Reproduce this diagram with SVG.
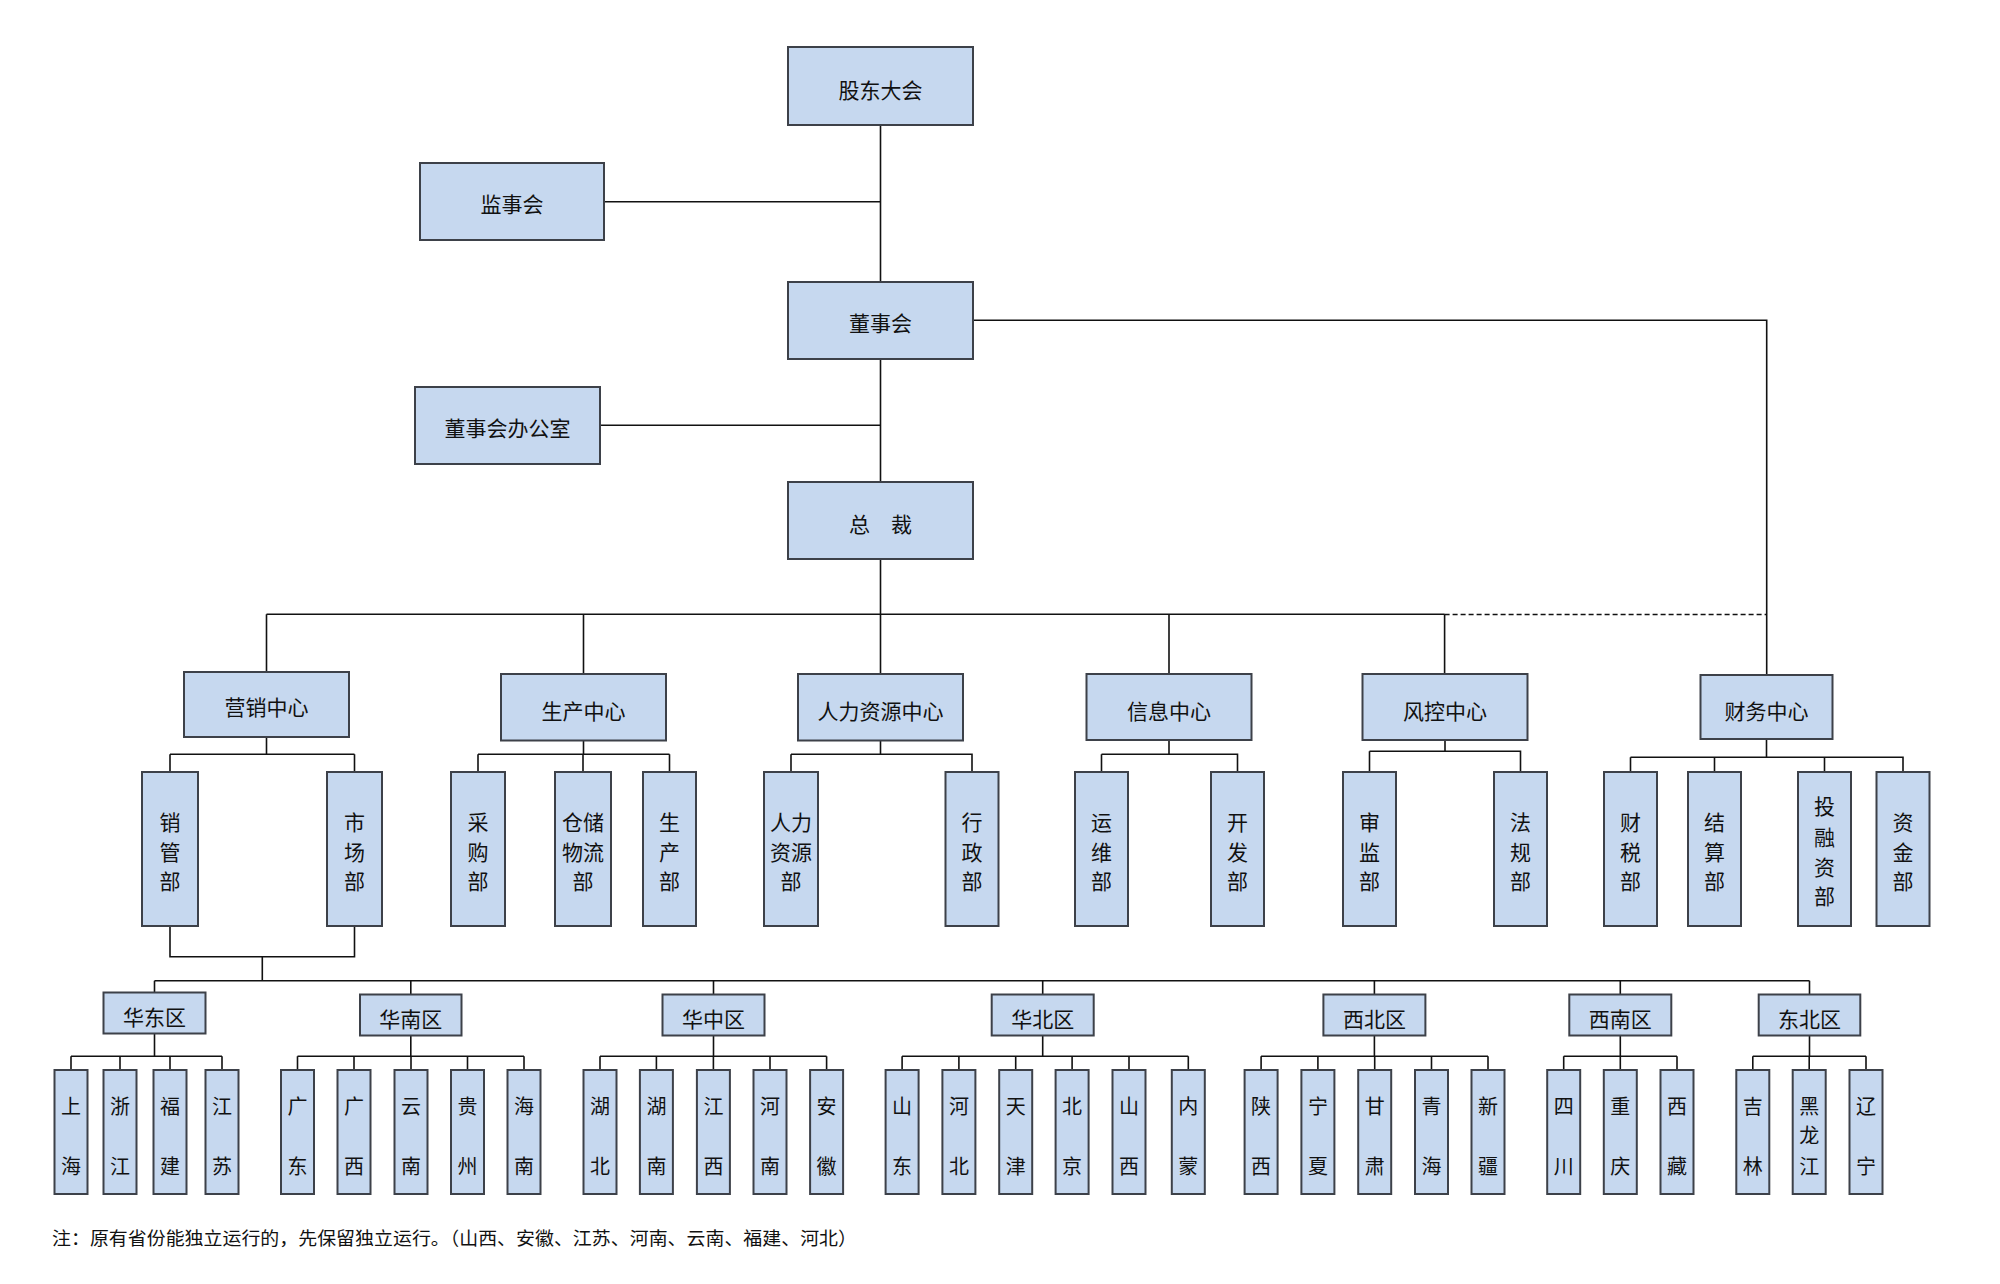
<svg xmlns="http://www.w3.org/2000/svg" width="2000" height="1284" viewBox="0 0 2000 1284">
<style>
.box{fill:#C6D8EF;stroke:#3D4149;stroke-width:2}
.ln{stroke:#111;stroke-width:1.6;fill:none}
.dash{stroke:#111;stroke-width:1.4;fill:none;stroke-dasharray:5,3}
.t{font-family:"Noto Sans CJK SC","Noto Sans",sans-serif;font-size:21px;fill:#111;text-anchor:middle}
.p{font-family:"Noto Sans CJK SC","Noto Sans",sans-serif;font-size:20px;fill:#111;text-anchor:middle}
.n{font-family:"Noto Sans CJK SC","Noto Sans",sans-serif;font-size:18.5px;fill:#111}
</style>
<rect width="2000" height="1284" fill="#fff"/>
<g id="connectors">
<path class="ln" d="M880.5 125V282M604 201.7H880.5M880.5 359V482M600 425.3H880.5M973 320.3H1766.7V675M880.5 559V614.3M266.5 614.3H1444.6M266.5 614.3V672M583.5 614.3V674M880.5 614.3V674M1169 614.3V674M1444.6 614.3V674"/>
<path class="dash" d="M1444.6 614.5H1766.7"/>
<path class="ln" d="M266.5 737V754.3M170 754.3H354.5M170 754.3V772M354.5 754.3V772"/>
<path class="ln" d="M583.5 740.5V754.3M478 754.3H669.5M478 754.3V772M583 754.3V772M669.5 754.3V772"/>
<path class="ln" d="M880.5 740.5V754.3M791 754.3H972V772M791 754.3V772"/>
<path class="ln" d="M1169 740V754.3M1101.5 754.3H1237.5V772M1101.5 754.3V772"/>
<path class="ln" d="M1445 740V751.3M1369.5 751.3H1520.5V772M1369.5 751.3V772"/>
<path class="ln" d="M1766.5 739V757.3M1630.5 757.3H1903V772M1630.5 757.3V772M1714.5 757.3V772M1824.5 757.3V772"/>
<path class="ln" d="M170 926V956.7H354.5V926M262.3 956.7V980.7M154.5 980.7H1809.5"/>
<path class="ln" d="M154.5 980.7V992.5M410.8 980.7V994.5M713.5 980.7V994.5M1042.7 980.7V994.5M1374.4 980.7V994.5M1620.3 980.7V994.5M1809.5 980.7V994.5"/>
<path class="ln" d="M154.5 1033.5V1056.3M71 1056.3H222M71 1056.3V1070M120 1056.3V1070M170 1056.3V1070M222 1056.3V1070"/>
<path class="ln" d="M410.8 1035.5V1056.3M297.5 1056.3H524M297.5 1056.3V1070M354 1056.3V1070M411 1056.3V1070M467.5 1056.3V1070M524 1056.3V1070"/>
<path class="ln" d="M713.5 1035.5V1056.3M600 1056.3H826.6M600 1056.3V1070M656.4 1056.3V1070M713.4 1056.3V1070M770 1056.3V1070M826.6 1056.3V1070"/>
<path class="ln" d="M1042.7 1035.5V1056.3M902.1 1056.3H1188.3M902.1 1056.3V1070M958.9 1056.3V1070M1015.7 1056.3V1070M1072.1 1056.3V1070M1129 1056.3V1070M1188.3 1056.3V1070"/>
<path class="ln" d="M1374.4 1035.5V1056.3M1261.1 1056.3H1488M1261.1 1056.3V1070M1317.9 1056.3V1070M1374.7 1056.3V1070M1431.5 1056.3V1070M1488 1056.3V1070"/>
<path class="ln" d="M1620.3 1035.5V1056.3M1563.7 1056.3H1677M1563.7 1056.3V1070M1620.3 1056.3V1070M1677 1056.3V1070"/>
<path class="ln" d="M1809.5 1035.5V1056.3M1752.8 1056.3H1866M1752.8 1056.3V1070M1809.2 1056.3V1070M1866 1056.3V1070"/>
</g>
<g id="n-gudong"><rect class="box" x="788" y="47" width="185" height="78"/><text class="t" x="880.5" y="98">股东大会</text></g>
<g id="n-jianshi"><rect class="box" x="420" y="163" width="184" height="77"/><text class="t" x="512" y="212">监事会</text></g>
<g id="n-dongshi"><rect class="box" x="788" y="282" width="185" height="77"/><text class="t" x="880.5" y="331">董事会</text></g>
<g id="n-office"><rect class="box" x="415" y="387" width="185" height="77"/><text class="t" x="507.5" y="436">董事会办公室</text></g>
<g id="n-zongcai"><rect class="box" x="788" y="482" width="185" height="77"/><text class="t" x="880.5" y="532" xml:space="preserve">总　裁</text></g>

<g id="n-yingxiao"><rect class="box" x="184" y="672" width="165" height="65"/><text class="t" x="266.5" y="715">营销中心</text></g>
<g id="n-shengchan"><rect class="box" x="501" y="674" width="165" height="66.5"/><text class="t" x="583.5" y="718.5">生产中心</text></g>
<g id="n-renli"><rect class="box" x="798" y="674" width="165" height="66.5"/><text class="t" x="880.5" y="718.5">人力资源中心</text></g>
<g id="n-xinxi"><rect class="box" x="1086.5" y="674" width="165" height="66"/><text class="t" x="1169" y="718.5">信息中心</text></g>
<g id="n-fengkong"><rect class="box" x="1362.5" y="674" width="165" height="66"/><text class="t" x="1445" y="718.5">风控中心</text></g>
<g id="n-caiwu"><rect class="box" x="1700.5" y="675" width="132" height="64"/><text class="t" x="1766.5" y="718.5">财务中心</text></g>

<g id="n-xiaoguan"><rect class="box" x="142" y="772" width="56" height="154"/><text class="t"><tspan x="170" y="830">销</tspan><tspan x="170" y="860">管</tspan><tspan x="170" y="889">部</tspan></text></g>
<g id="n-shichang"><rect class="box" x="327" y="772" width="55" height="154"/><text class="t"><tspan x="354.5" y="830">市</tspan><tspan x="354.5" y="860">场</tspan><tspan x="354.5" y="889">部</tspan></text></g>
<g id="n-caigou"><rect class="box" x="451" y="772" width="54" height="154"/><text class="t"><tspan x="478" y="830">采</tspan><tspan x="478" y="860">购</tspan><tspan x="478" y="889">部</tspan></text></g>
<g id="n-cangchu"><rect class="box" x="555" y="772" width="56" height="154"/><text class="t"><tspan x="583" y="830">仓储</tspan><tspan x="583" y="860">物流</tspan><tspan x="583" y="889">部</tspan></text></g>
<g id="n-shengchanbu"><rect class="box" x="643" y="772" width="53" height="154"/><text class="t"><tspan x="669.5" y="830">生</tspan><tspan x="669.5" y="860">产</tspan><tspan x="669.5" y="889">部</tspan></text></g>
<g id="n-renliziyuan"><rect class="box" x="764" y="772" width="54" height="154"/><text class="t"><tspan x="791" y="830">人力</tspan><tspan x="791" y="860">资源</tspan><tspan x="791" y="889">部</tspan></text></g>
<g id="n-xingzheng"><rect class="box" x="945.5" y="772" width="53" height="154"/><text class="t"><tspan x="972" y="830">行</tspan><tspan x="972" y="860">政</tspan><tspan x="972" y="889">部</tspan></text></g>
<g id="n-yunwei"><rect class="box" x="1075" y="772" width="53" height="154"/><text class="t"><tspan x="1101.5" y="830">运</tspan><tspan x="1101.5" y="860">维</tspan><tspan x="1101.5" y="889">部</tspan></text></g>
<g id="n-kaifa"><rect class="box" x="1211" y="772" width="53" height="154"/><text class="t"><tspan x="1237.5" y="830">开</tspan><tspan x="1237.5" y="860">发</tspan><tspan x="1237.5" y="889">部</tspan></text></g>
<g id="n-shenjian"><rect class="box" x="1343" y="772" width="53" height="154"/><text class="t"><tspan x="1369.5" y="830">审</tspan><tspan x="1369.5" y="860">监</tspan><tspan x="1369.5" y="889">部</tspan></text></g>
<g id="n-fagui"><rect class="box" x="1494" y="772" width="53" height="154"/><text class="t"><tspan x="1520.5" y="830">法</tspan><tspan x="1520.5" y="860">规</tspan><tspan x="1520.5" y="889">部</tspan></text></g>
<g id="n-caishui"><rect class="box" x="1604" y="772" width="53" height="154"/><text class="t"><tspan x="1630.5" y="830">财</tspan><tspan x="1630.5" y="860">税</tspan><tspan x="1630.5" y="889">部</tspan></text></g>
<g id="n-jiesuan"><rect class="box" x="1688" y="772" width="53" height="154"/><text class="t"><tspan x="1714.5" y="830">结</tspan><tspan x="1714.5" y="860">算</tspan><tspan x="1714.5" y="889">部</tspan></text></g>
<g id="n-tourongzi"><rect class="box" x="1798" y="772" width="53" height="154"/><text class="t"><tspan x="1824.5" y="814">投</tspan><tspan x="1824.5" y="845">融</tspan><tspan x="1824.5" y="875">资</tspan><tspan x="1824.5" y="904">部</tspan></text></g>
<g id="n-zijin"><rect class="box" x="1876.5" y="772" width="53" height="154"/><text class="t"><tspan x="1903" y="830">资</tspan><tspan x="1903" y="860">金</tspan><tspan x="1903" y="889">部</tspan></text></g>

<g id="n-huadong"><rect class="box" x="103.5" y="992.5" width="102" height="41"/><text class="t" x="154.5" y="1025">华东区</text></g>
<g id="n-huanan"><rect class="box" x="360" y="994.5" width="101.5" height="41"/><text class="t" x="410.8" y="1027">华南区</text></g>
<g id="n-huazhong"><rect class="box" x="662.5" y="994.5" width="102" height="41"/><text class="t" x="713.5" y="1027">华中区</text></g>
<g id="n-huabei"><rect class="box" x="991.7" y="994.5" width="102" height="41"/><text class="t" x="1042.7" y="1027">华北区</text></g>
<g id="n-xibei"><rect class="box" x="1323.4" y="994.5" width="102" height="41"/><text class="t" x="1374.4" y="1027">西北区</text></g>
<g id="n-xinan"><rect class="box" x="1569.3" y="994.5" width="102" height="41"/><text class="t" x="1620.3" y="1027">西南区</text></g>
<g id="n-dongbei"><rect class="box" x="1758.7" y="994.5" width="101.6" height="41"/><text class="t" x="1809.5" y="1027">东北区</text></g>

<g id="n-shanghai"><rect class="box" x="54.5" y="1070" width="33" height="124"/><text class="p"><tspan x="71" y="1113.5">上</tspan><tspan x="71" y="1173.5">海</tspan></text></g>
<g id="n-zhejiang"><rect class="box" x="103.5" y="1070" width="33" height="124"/><text class="p"><tspan x="120" y="1113.5">浙</tspan><tspan x="120" y="1173.5">江</tspan></text></g>
<g id="n-fujian"><rect class="box" x="153.5" y="1070" width="33" height="124"/><text class="p"><tspan x="170" y="1113.5">福</tspan><tspan x="170" y="1173.5">建</tspan></text></g>
<g id="n-jiangsu"><rect class="box" x="205.5" y="1070" width="33" height="124"/><text class="p"><tspan x="222" y="1113.5">江</tspan><tspan x="222" y="1173.5">苏</tspan></text></g>

<g id="n-guangdong"><rect class="box" x="281" y="1070" width="33" height="124"/><text class="p"><tspan x="297.5" y="1113.5">广</tspan><tspan x="297.5" y="1173.5">东</tspan></text></g>
<g id="n-guangxi"><rect class="box" x="337.5" y="1070" width="33" height="124"/><text class="p"><tspan x="354" y="1113.5">广</tspan><tspan x="354" y="1173.5">西</tspan></text></g>
<g id="n-yunnan"><rect class="box" x="394.5" y="1070" width="33" height="124"/><text class="p"><tspan x="411" y="1113.5">云</tspan><tspan x="411" y="1173.5">南</tspan></text></g>
<g id="n-guizhou"><rect class="box" x="451" y="1070" width="33" height="124"/><text class="p"><tspan x="467.5" y="1113.5">贵</tspan><tspan x="467.5" y="1173.5">州</tspan></text></g>
<g id="n-hainan"><rect class="box" x="507.5" y="1070" width="33" height="124"/><text class="p"><tspan x="524" y="1113.5">海</tspan><tspan x="524" y="1173.5">南</tspan></text></g>

<g id="n-hubei"><rect class="box" x="583.5" y="1070" width="33" height="124"/><text class="p"><tspan x="600" y="1113.5">湖</tspan><tspan x="600" y="1173.5">北</tspan></text></g>
<g id="n-hunan"><rect class="box" x="639.9" y="1070" width="33" height="124"/><text class="p"><tspan x="656.4" y="1113.5">湖</tspan><tspan x="656.4" y="1173.5">南</tspan></text></g>
<g id="n-jiangxi"><rect class="box" x="696.9" y="1070" width="33" height="124"/><text class="p"><tspan x="713.4" y="1113.5">江</tspan><tspan x="713.4" y="1173.5">西</tspan></text></g>
<g id="n-henan"><rect class="box" x="753.5" y="1070" width="33" height="124"/><text class="p"><tspan x="770" y="1113.5">河</tspan><tspan x="770" y="1173.5">南</tspan></text></g>
<g id="n-anhui"><rect class="box" x="810.1" y="1070" width="33" height="124"/><text class="p"><tspan x="826.6" y="1113.5">安</tspan><tspan x="826.6" y="1173.5">徽</tspan></text></g>

<g id="n-shandong"><rect class="box" x="885.6" y="1070" width="33" height="124"/><text class="p"><tspan x="902.1" y="1113.5">山</tspan><tspan x="902.1" y="1173.5">东</tspan></text></g>
<g id="n-hebei"><rect class="box" x="942.4" y="1070" width="33" height="124"/><text class="p"><tspan x="958.9" y="1113.5">河</tspan><tspan x="958.9" y="1173.5">北</tspan></text></g>
<g id="n-tianjin"><rect class="box" x="999.2" y="1070" width="33" height="124"/><text class="p"><tspan x="1015.7" y="1113.5">天</tspan><tspan x="1015.7" y="1173.5">津</tspan></text></g>
<g id="n-beijing"><rect class="box" x="1055.6" y="1070" width="33" height="124"/><text class="p"><tspan x="1072.1" y="1113.5">北</tspan><tspan x="1072.1" y="1173.5">京</tspan></text></g>
<g id="n-shanxi"><rect class="box" x="1112.5" y="1070" width="33" height="124"/><text class="p"><tspan x="1129" y="1113.5">山</tspan><tspan x="1129" y="1173.5">西</tspan></text></g>
<g id="n-neimeng"><rect class="box" x="1171.8" y="1070" width="33" height="124"/><text class="p"><tspan x="1188.3" y="1113.5">内</tspan><tspan x="1188.3" y="1173.5">蒙</tspan></text></g>

<g id="n-shaanxi"><rect class="box" x="1244.6" y="1070" width="33" height="124"/><text class="p"><tspan x="1261.1" y="1113.5">陕</tspan><tspan x="1261.1" y="1173.5">西</tspan></text></g>
<g id="n-ningxia"><rect class="box" x="1301.4" y="1070" width="33" height="124"/><text class="p"><tspan x="1317.9" y="1113.5">宁</tspan><tspan x="1317.9" y="1173.5">夏</tspan></text></g>
<g id="n-gansu"><rect class="box" x="1358.2" y="1070" width="33" height="124"/><text class="p"><tspan x="1374.7" y="1113.5">甘</tspan><tspan x="1374.7" y="1173.5">肃</tspan></text></g>
<g id="n-qinghai"><rect class="box" x="1415" y="1070" width="33" height="124"/><text class="p"><tspan x="1431.5" y="1113.5">青</tspan><tspan x="1431.5" y="1173.5">海</tspan></text></g>
<g id="n-xinjiang"><rect class="box" x="1471.5" y="1070" width="33" height="124"/><text class="p"><tspan x="1488" y="1113.5">新</tspan><tspan x="1488" y="1173.5">疆</tspan></text></g>

<g id="n-sichuan"><rect class="box" x="1547.2" y="1070" width="33" height="124"/><text class="p"><tspan x="1563.7" y="1113.5">四</tspan><tspan x="1563.7" y="1173.5">川</tspan></text></g>
<g id="n-chongqing"><rect class="box" x="1603.8" y="1070" width="33" height="124"/><text class="p"><tspan x="1620.3" y="1113.5">重</tspan><tspan x="1620.3" y="1173.5">庆</tspan></text></g>
<g id="n-xizang"><rect class="box" x="1660.5" y="1070" width="33" height="124"/><text class="p"><tspan x="1677" y="1113.5">西</tspan><tspan x="1677" y="1173.5">藏</tspan></text></g>

<g id="n-jilin"><rect class="box" x="1736.3" y="1070" width="33" height="124"/><text class="p"><tspan x="1752.8" y="1113.5">吉</tspan><tspan x="1752.8" y="1173.5">林</tspan></text></g>
<g id="n-heilongjiang"><rect class="box" x="1792.7" y="1070" width="33" height="124"/><text class="p"><tspan x="1809.2" y="1113.5">黑</tspan><tspan x="1809.2" y="1143">龙</tspan><tspan x="1809.2" y="1173.5">江</tspan></text></g>
<g id="n-liaoning"><rect class="box" x="1849.5" y="1070" width="33" height="124"/><text class="p"><tspan x="1866" y="1113.5">辽</tspan><tspan x="1866" y="1173.5">宁</tspan></text></g>

<text class="n" x="52" y="1245" textLength="805" lengthAdjust="spacingAndGlyphs">注：原有省份能独立运行的，先保留独立运行。（山西、安徽、江苏、河南、云南、福建、河北）</text>
</svg>
